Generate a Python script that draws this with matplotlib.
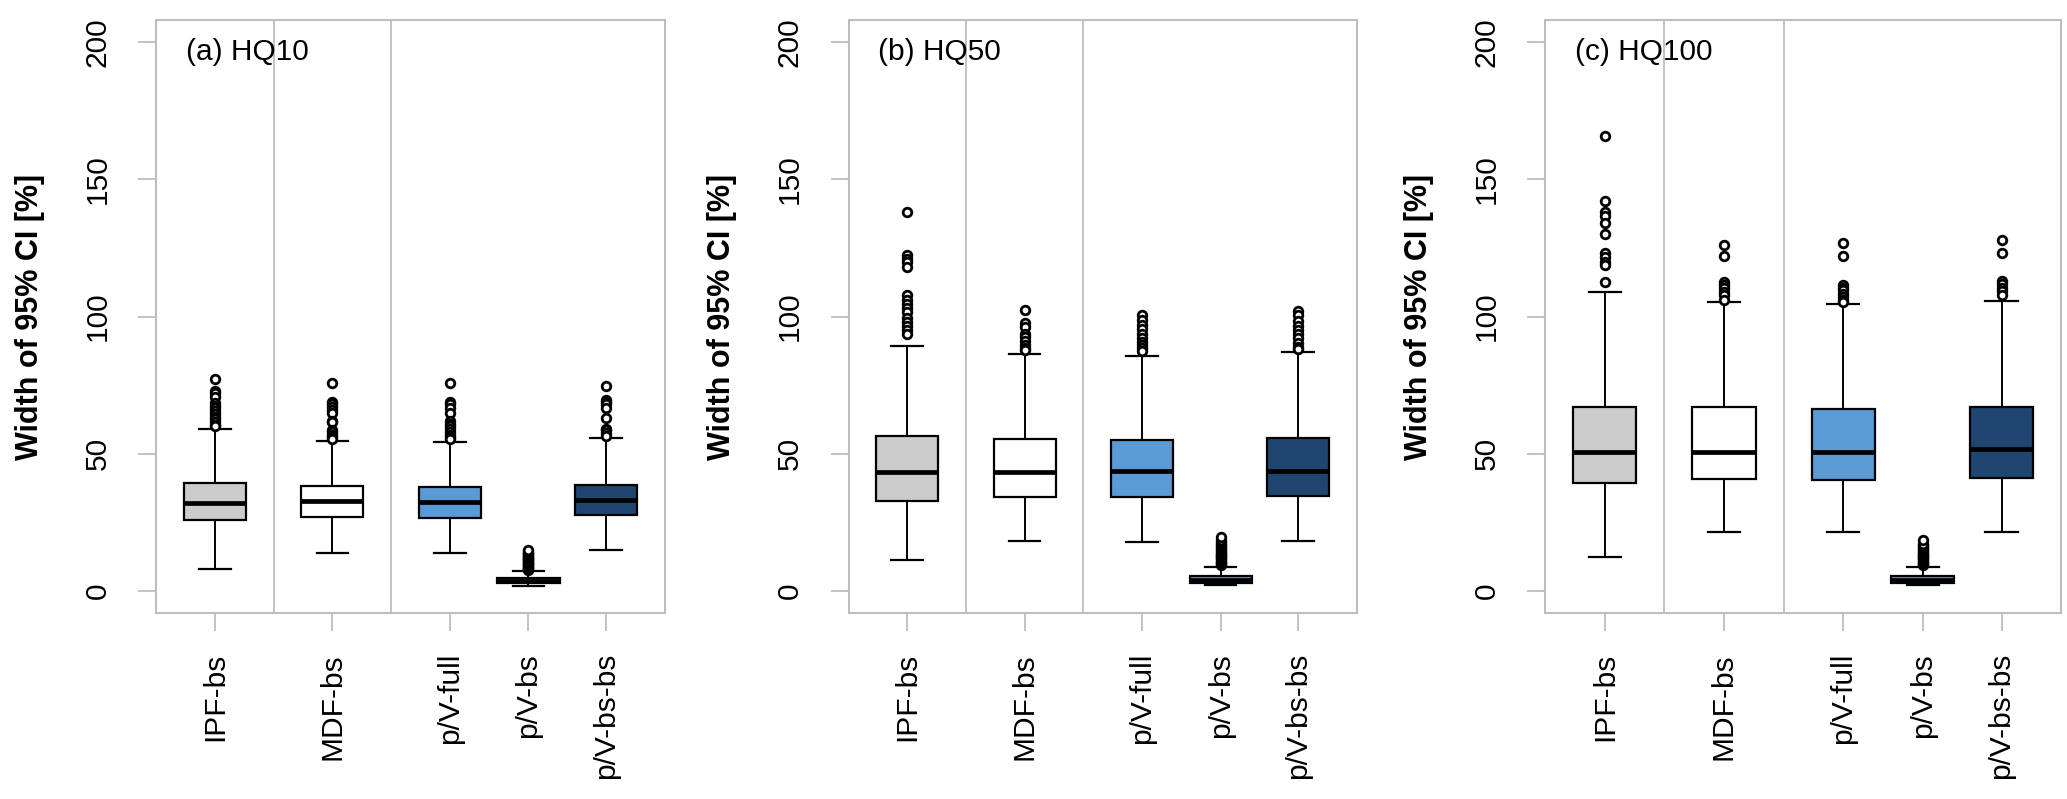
import matplotlib
matplotlib.use("Agg")
import matplotlib.pyplot as plt

plt.rcParams['font.family'] = ['Liberation Sans', 'DejaVu Sans']

categories = ["IPF-bs", "MDF-bs", "p/V-full", "p/V-bs", "p/V-bs-bs"]
positions = [1, 2, 3, 3.67, 4.33]
colors = ["#CCCCCC", "#FFFFFF", "#5B9BD5", "#5B9BD5", "#1E4670"]
panel_titles = ["(a) HQ10", "(b) HQ50", "(c) HQ100"]
ylabel = "Width of 95% CI [%]"
yticks = [0, 50, 100, 150, 200]

# (whislo, q1, med, q3, whishi) per category
stats_a = [(7.9, 25.9, 31.9, 39.2, 58.9),
           (13.8, 26.9, 32.8, 38.3, 54.7),
           (13.8, 26.7, 32.4, 38.0, 54.4),
           (1.9, 2.8, 3.8, 4.6, 7.3),
           (14.8, 27.6, 33.0, 38.8, 55.6)]
stats_b = [(11.2, 32.9, 43.2, 56.4, 89.2),
           (18.1, 34.3, 43.4, 55.2, 86.5),
           (17.7, 34.1, 43.7, 55.0, 85.7),
           (2.1, 2.8, 4.2, 5.5, 8.9),
           (18.1, 34.7, 43.7, 55.8, 86.9)]
stats_c = [(12.5, 39.2, 50.5, 67.1, 109.0),
           (21.6, 40.9, 50.7, 66.9, 105.1),
           (21.6, 40.4, 50.7, 66.3, 104.6),
           (2.1, 2.8, 4.2, 5.5, 8.7),
           (21.6, 41.3, 51.6, 67.1, 105.7)]

fliers_a = [[77.1, 73.0, 72.0, 70.5, 68.5, 67.5, 66.5, 65.5, 64.5, 63.5, 62.5, 61.5, 60.5, 60.0],
            [75.6, 68.9, 68.0, 67.0, 65.8, 64.7, 62.0, 61.5, 58.6, 57.8, 57.0, 56.2, 55.5],
            [75.9, 68.9, 68.0, 66.8, 64.7, 62.0, 61.0, 60.0, 59.0, 58.0, 57.0, 56.0, 55.2],
            [7.6, 7.9, 8.2, 8.5, 8.8, 9.1, 9.4, 9.7, 10.0, 10.3, 10.6, 10.9, 11.2,
             11.5, 11.8, 12.1, 12.4, 12.7, 13.0, 13.4, 13.8, 14.2, 14.9],
            [74.6, 69.5, 68.8, 68.0, 66.5, 62.9, 59.2, 58.5, 57.5, 56.5]]
fliers_b = [[138.0, 122.3, 121.0, 119.8, 118.1, 107.8, 106.0, 104.5, 103.0, 101.5,
             99.5, 98.0, 96.5, 95.0, 93.8],
            [102.3, 97.7, 96.2, 93.8, 92.5, 91.0, 89.8, 88.6, 87.7],
            [100.7, 98.7, 97.0, 95.5, 93.8, 92.0, 90.8, 89.7, 88.5, 87.3],
            [9.5, 9.9, 10.3, 10.7, 11.1, 11.5, 11.9, 12.3, 12.7, 13.1, 13.6, 14.0,
             14.5, 15.0, 15.5, 16.0, 16.6, 17.2, 17.9, 18.6, 19.8],
            [101.9, 100.5, 98.5, 96.5, 95.0, 93.8, 92.0, 90.5, 89.0, 88.0]]
fliers_c = [[165.7, 142.0, 137.9, 136.5, 134.1, 129.9, 123.0, 121.5, 120.0, 118.7, 112.4],
            [126.2, 122.0, 112.6, 111.5, 110.3, 109.0, 107.8, 106.0],
            [126.6, 122.0, 111.4, 110.5, 109.5, 108.3, 107.0, 106.0, 105.3],
            [9.5, 9.9, 10.3, 10.7, 11.1, 11.5, 11.9, 12.3, 12.7, 13.1, 13.6, 14.0,
             14.5, 15.0, 15.5, 16.0, 16.6, 17.3, 18.6],
            [127.8, 123.2, 112.9, 111.8, 110.5, 109.2, 107.8]]

all_stats = [stats_a, stats_b, stats_c]
all_fliers = [fliers_a, fliers_b, fliers_c]

W, H = 2067, 799
fig = plt.figure(figsize=(W / 100, H / 100), dpi=100)

# axes boxes in pixels: left, right
ax_px = [(156.3, 664.6), (848.6, 1356.8), (1545.3, 2061.1)]
top_px, bot_px = 20, 613
grey = "#BEBEBE"
fs = 21.5

for i in range(3):
    l, r = ax_px[i]
    ax = fig.add_axes([l / W, (H - bot_px) / H, (r - l) / W, (bot_px - top_px) / H])
    bstats = []
    for (lo, q1, med, q3, hi), fl in zip(all_stats[i], all_fliers[i]):
        bstats.append(dict(whislo=lo, q1=q1, med=med, q3=q3, whishi=hi, fliers=fl))
    bp = ax.bxp(bstats, positions=positions, widths=0.53, patch_artist=True,
                showfliers=True, capwidths=0.27,
                boxprops=dict(edgecolor="black", linewidth=1.6),
                medianprops=dict(color="black", linewidth=3.4, solid_capstyle="butt"),
                whiskerprops=dict(color="black", linewidth=1.4),
                capprops=dict(color="black", linewidth=1.6),
                flierprops=dict(marker="o", markerfacecolor="white",
                                markeredgecolor="black", markersize=6.2,
                                markeredgewidth=2.0))
    for patch, c in zip(bp["boxes"], colors):
        patch.set_facecolor(c)
    for x in (1.5, 2.5):
        ax.axvline(x, color=grey, lw=1.3, zorder=0)
    ax.set_xlim(0.5, 4.83)
    ax.set_ylim(-8, 208)
    ax.set_yticks(yticks)
    ax.set_yticklabels([str(t) for t in yticks], rotation=90, va="center")
    ax.set_xticks(positions)
    ax.set_xticklabels(categories, rotation=90, va="top", ha="center")
    ax.tick_params(axis="both", colors=grey, length=13.3, width=1.3, labelsize=fs,
                   labelcolor="black")
    ax.tick_params(axis="x", pad=15.5)
    ax.tick_params(axis="y", pad=19)
    for s in ax.spines.values():
        s.set_color(grey)
        s.set_linewidth(1.5)
    ax.set_ylabel(ylabel, fontsize=22, fontweight="bold")
    ax.yaxis.set_label_coords(-111.6 / (r - l), 0.5)
    ax.text(29.4 / (r - l), 1 - 31.7 / (bot_px - top_px), panel_titles[i],
            transform=ax.transAxes, fontsize=fs, ha="left", va="center")

fig.savefig("out.png", dpi=100)
